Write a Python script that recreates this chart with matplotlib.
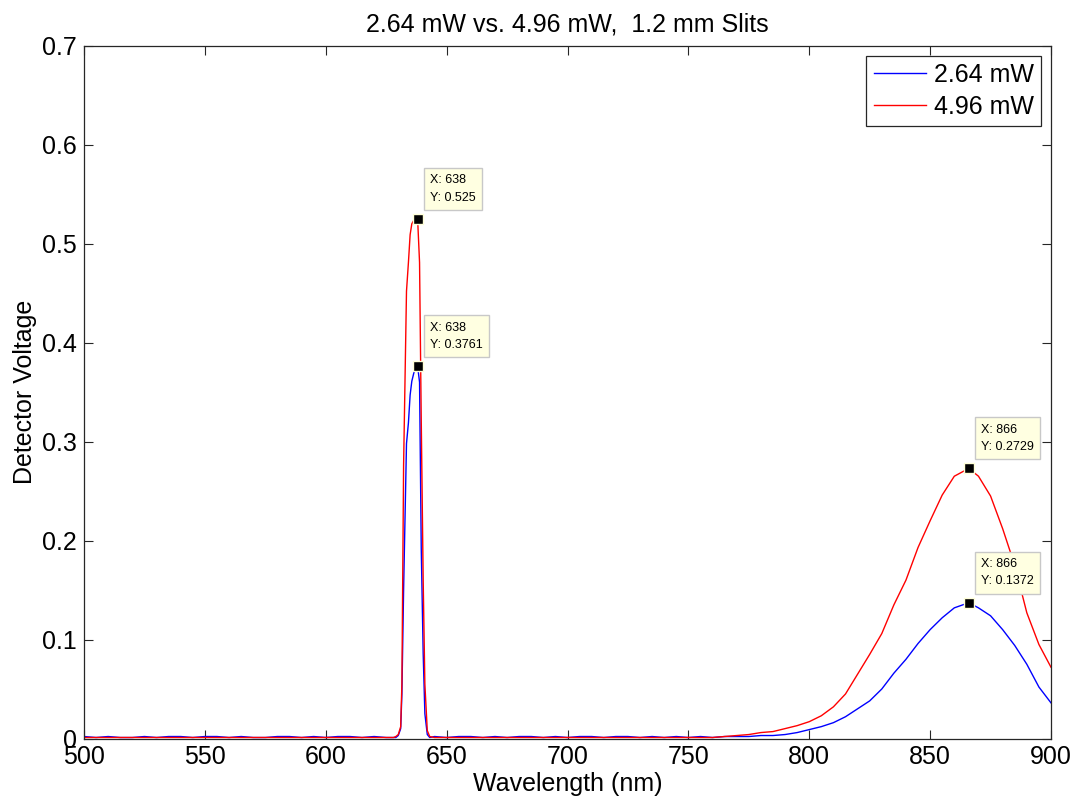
import matplotlib
matplotlib.use("Agg")
import matplotlib.pyplot as plt

plt.rcParams['font.family'] = ['Liberation Sans', 'DejaVu Sans']

# ---- data ----
wavelength_nm = [500, 505, 510, 515, 520, 525, 530, 535, 540, 545, 550, 555, 560,
                 565, 570, 575, 580, 585, 590, 595, 600, 605, 610, 615, 620, 625,
                 628, 629, 630, 631, 631.5, 632.2, 633.4, 634.2, 634.9, 635.6, 636.5,
                 638, 638.8, 639.5, 640.3, 641, 642, 643,
                 645, 650, 655, 660, 665, 670, 675, 680, 685, 690, 695, 700, 705,
                 710, 715, 720, 725, 730, 735, 740, 745, 750, 755, 760, 765,
                 770, 775, 780, 785, 790, 795, 800, 805, 810, 815, 820, 825, 830,
                 835, 840, 845, 850, 855, 860, 866, 870, 875, 880, 885, 890, 895, 900]

power_264_mW = [0.002, 0.001, 0.002, 0.001, 0.001, 0.002, 0.001, 0.002, 0.002, 0.001, 0.002, 0.002, 0.001,
                0.002, 0.001, 0.001, 0.002, 0.002, 0.001, 0.002, 0.001, 0.002, 0.002, 0.001, 0.002, 0.001,
                0.001, 0.001, 0.003, 0.010, 0.045, 0.150, 0.298, 0.319, 0.347, 0.361, 0.370,
                0.3761, 0.360, 0.192, 0.086, 0.025, 0.004, 0.001,
                0.002, 0.001, 0.002, 0.002, 0.001, 0.002, 0.001, 0.002, 0.002, 0.001, 0.002, 0.001, 0.002,
                0.002, 0.001, 0.002, 0.002, 0.001, 0.002, 0.001, 0.002, 0.001, 0.002, 0.001, 0.002,
                0.002, 0.002, 0.003, 0.003, 0.004, 0.006, 0.009, 0.012, 0.016, 0.022, 0.030, 0.038, 0.050,
                0.066, 0.080, 0.096, 0.110, 0.122, 0.132, 0.1372, 0.132, 0.124, 0.110, 0.094, 0.075, 0.052, 0.036]

power_496_mW = [0.001, 0.001, 0.001, 0.001, 0.001, 0.001, 0.001, 0.001, 0.001, 0.001, 0.001, 0.001, 0.001,
                0.001, 0.001, 0.001, 0.001, 0.001, 0.001, 0.001, 0.001, 0.001, 0.001, 0.001, 0.001, 0.001,
                0.001, 0.002, 0.004, 0.012, 0.055, 0.276, 0.452, 0.481, 0.509, 0.520, 0.524,
                0.525, 0.481, 0.322, 0.160, 0.055, 0.008, 0.002,
                0.001, 0.001, 0.001, 0.001, 0.001, 0.001, 0.001, 0.001, 0.001, 0.001, 0.001, 0.001, 0.001,
                0.001, 0.001, 0.001, 0.001, 0.001, 0.001, 0.001, 0.001, 0.001, 0.001, 0.001, 0.002,
                0.003, 0.004, 0.006, 0.007, 0.010, 0.013, 0.017, 0.023, 0.032, 0.045, 0.065, 0.085, 0.106,
                0.135, 0.160, 0.193, 0.220, 0.246, 0.265, 0.2729, 0.265, 0.245, 0.212, 0.175, 0.127, 0.095, 0.072]

series_labels = ['2.64 mW', '4.96 mW']
series_colors = ['#0000FF', '#FF0000']

# data tips
tip_x = [638, 638, 866, 866]
tip_y = [0.525, 0.3761, 0.2729, 0.1372]
tip_text = ['X: 638\nY: 0.525', 'X: 638\nY: 0.3761', 'X: 866\nY: 0.2729', 'X: 866\nY: 0.1372']

x_ticks = [500, 550, 600, 650, 700, 750, 800, 850, 900]
y_ticks = [0, 0.1, 0.2, 0.3, 0.4, 0.5, 0.6, 0.7]
y_ticklabels = ['0', '0.1', '0.2', '0.3', '0.4', '0.5', '0.6', '0.7']

# ---- figure ----
fig = plt.figure(figsize=(10.78, 8.01), dpi=100)
ax = fig.add_axes([84 / 1078, 1 - 738.5 / 801, (1051 - 84) / 1078, (738.5 - 45.7) / 801])

ax.plot(wavelength_nm, power_264_mW, color=series_colors[0], lw=1.0, label=series_labels[0])
ax.plot(wavelength_nm, power_496_mW, color=series_colors[1], lw=1.0, label=series_labels[1])

ax.set_xlim(500, 900)
ax.set_ylim(0, 0.7)
ax.set_xticks(x_ticks)
ax.set_yticks(y_ticks)
ax.set_yticklabels(y_ticklabels)
ax.tick_params(direction='in', length=6.5, width=0.8, top=True, right=True,
               labelsize=18, pad=5, color='#262626')
for s in ax.spines.values():
    s.set_linewidth(0.9)
    s.set_color('#262626')

ax.set_title('2.64 mW vs. 4.96 mW,  1.2 mm Slits', fontsize=18, pad=10)
ax.set_xlabel('Wavelength (nm)', fontsize=18, labelpad=2)
ax.set_ylabel('Detector Voltage', fontsize=18, labelpad=4)

leg = ax.legend(loc='upper right', fontsize=18, fancybox=False, framealpha=1,
                edgecolor='#262626', handlelength=2.1, handletextpad=0.3,
                borderpad=0.3, labelspacing=0.3, borderaxespad=0.4)
leg.get_frame().set_linewidth(0.9)

for xv, yv, txt in zip(tip_x, tip_y, tip_text):
    ax.plot([xv], [yv], marker='s', ms=7.5, color='black', mec='#FFFFD8', mew=1.0,
            zorder=5, clip_on=False)
    ax.annotate(txt, xy=(xv, yv), xytext=(9, 11), textcoords='offset points',
                ha='left', va='bottom', fontsize=9, linespacing=1.6,
                bbox=dict(boxstyle='square,pad=0.5', fc='#FFFFE1', ec='#C8C8C8', lw=1.0),
                zorder=6)

fig.savefig('out.png', dpi=100)
